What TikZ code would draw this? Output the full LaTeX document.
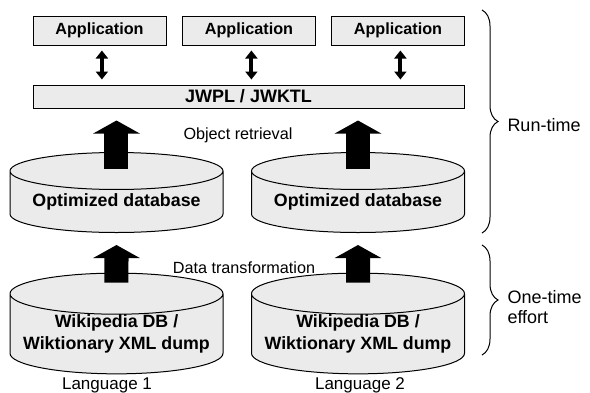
\documentclass[tikz,border=0pt]{standalone}
\usepackage{fontspec}
\setmainfont{Liberation Sans}
\usetikzlibrary{arrows.meta,shapes.geometric,decorations.pathreplacing}

\begin{document}
\begin{tikzpicture}[x=0.5pt,y=-0.5pt,line width=0.5pt,
    box/.style={draw, fill=black!8, inner sep=0pt, font=\fontsize{8.1}{11}\selectfont\bfseries},
    db/.style={cylinder, shape border rotate=90, aspect=0.22, draw, fill=black!8, minimum width=106.5pt, minimum height=40pt, inner sep=0pt, align=center, font=\fontsize{8.9}{11}\selectfont\bfseries},
    txt/.style={font=\fontsize{8.1}{11}\selectfont},
    side/.style={font=\fontsize{9}{10}\selectfont},
    bigarrow/.style={line width=12pt, -{Triangle[width=23pt,length=6.5pt]}},
    twoway/.style={line width=2pt, {Triangle[width=6pt,length=4pt]}-{Triangle[width=6pt,length=4pt]}},
    curly/.style={decorate, decoration={brace, amplitude=8pt}}]
    \useasboundingbox (0,0) rectangle (590,392);
    % run-time part
    \node[box, minimum width=66.5pt, minimum height=14.5pt] (app1) at (99.5,30.5) {Application};
    \node[box, minimum width=66.5pt, minimum height=14.5pt] (app2) at (249,30.5) {Application};
    \node[box, minimum width=66.5pt, minimum height=14.5pt] (app3) at (398,30.5) {Application};
    \node[box, minimum width=215.5pt, minimum height=11.5pt, font=\fontsize{9}{11}\selectfont\bfseries] (jwpl) at (248.5,96.5) {JWPL / JWKTL};
    \foreach \a in {app1,app2,app3}
        \draw[twoway] ([xshift=1.2pt,yshift=-2.5pt]\a.south) -- ([xshift=1.2pt,yshift=2.5pt]jwpl.north -| \a.south);
    \node[db] (optA) at (116.5,202) {Optimized database};
    \node[db] (optB) at (358,202) {Optimized database};
    \draw[bigarrow] ([yshift=-8.5pt]optA.north) -- ([yshift=-6pt]jwpl.south -| optA.north);
    \draw[bigarrow] ([yshift=-8.5pt]optB.north) -- ([yshift=-6pt]jwpl.south -| optB.north);
    \node[txt] (ret) at (238,135) {Object retrieval};
    % one-time part
    \node[db] (srcA) at (116.5,334) {Wikipedia DB /\\Wiktionary XML dump};
    \node[db] (srcB) at (358,334) {Wikipedia DB /\\Wiktionary XML dump};
    \draw[bigarrow] ([yshift=-5pt]srcA.north) -- ([yshift=-6pt]optA.south);
    \draw[bigarrow] ([yshift=-5pt]srcB.north) -- ([yshift=-6pt]optB.south);
    \node[txt] (trans) at (244,268) {Data transformation};
    \node[side, font=\fontsize{8.5}{10}\selectfont] (lang1) at (107,385) {Language 1};
    \node[side, font=\fontsize{8.5}{10}\selectfont] (lang2) at (360,385) {Language 2};
    % braces
    \coordinate (b1) at (482,10);
    \coordinate (b2) at (482,233);
    \coordinate (b3) at (482,245);
    \coordinate (b4) at (482,355);
    \draw[curly] (b1) -- (b2);
    \draw[curly] (b3) -- (b4);
    \node[side, anchor=west, inner sep=0pt] (run) at (507,125) {Run-time};
    \node[side, anchor=west, align=left, inner sep=0pt] (once) at (507,307) {One-time\\effort};
\end{tikzpicture}
\end{document}
